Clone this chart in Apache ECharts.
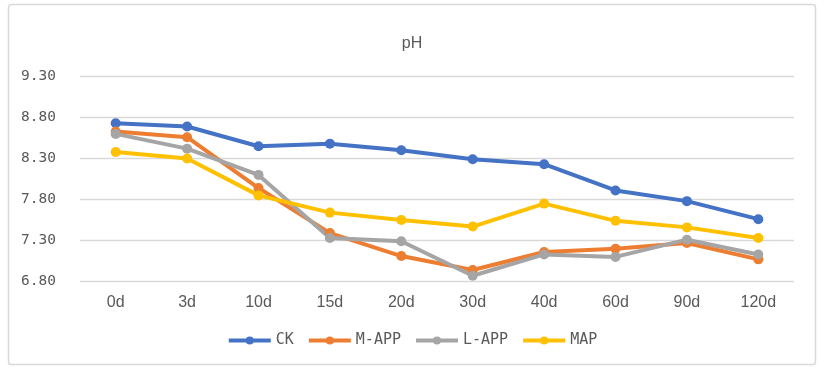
<!DOCTYPE html>
<html><head><meta charset="utf-8">
<script src="https://cdn.jsdelivr.net/npm/echarts@6/dist/echarts.min.js"></script>
<style>html,body{margin:0;padding:0;background:#fff}#c{width:824px;height:373px}</style>
</head><body><div id="c"></div>
<script>
const categories = ['0d','3d','10d','15d','20d','30d','40d','60d','90d','120d'];
const CK   = [8.73, 8.69, 8.45, 8.48, 8.40, 8.29, 8.23, 7.91, 7.78, 7.56];
const MAPP = [8.63, 8.56, 7.94, 7.39, 7.11, 6.94, 7.16, 7.20, 7.27, 7.07];
const LAPP = [8.60, 8.42, 8.10, 7.33, 7.29, 6.87, 7.13, 7.10, 7.31, 7.13];
const MAP  = [8.38, 8.30, 7.85, 7.64, 7.55, 7.47, 7.75, 7.54, 7.46, 7.33];
const seriesNames = ['CK','M-APP','L-APP','MAP'];
const colors = ['#4472C4','#ED7D31','#A5A5A5','#FFC000'];
const sans = '"Liberation Sans", Arial, sans-serif';
const mono = '"DejaVu Sans Mono", "Liberation Mono", monospace';
const chart = echarts.init(document.getElementById('c'), null, {renderer:'canvas'});
const mk = (name, data, i) => ({
  name, type:'line', data, symbol:'circle', symbolSize:10,
  lineStyle:{width:4, color:colors[i]}, itemStyle:{color:colors[i]},
  emphasis:{disabled:true}, animation:false
});
chart.setOption({
  animation:false,
  color: colors,
  title:{text:'pH', left:'center', top:31, textStyle:{fontFamily:sans, fontSize:16, fontWeight:'normal', color:'#595959'}},
  graphic:[{type:'rect', shape:{x:8.5, y:4.5, width:807, height:360, r:3}, style:{fill:'none', stroke:'#D9D9D9', lineWidth:1.5}, z:-1}],
  grid:{left:80, right:30, top:76.5, bottom:91.5},
  legend:{top:328, left:'center', itemWidth:42, itemHeight:10, itemGap:13,
    lineStyle:{width:4},
    textStyle:{fontFamily:mono, fontSize:15, color:'#595959'}, data:seriesNames},
  xAxis:{type:'category', data:categories, boundaryGap:true,
    axisLine:{show:false}, axisTick:{show:false},
    axisLabel:{fontFamily:sans, fontSize:16, color:'#595959', margin:13}},
  yAxis:{type:'value', min:6.8, max:9.3, interval:0.5,
    axisLine:{show:false}, axisTick:{show:false},
    splitLine:{lineStyle:{color:'#D9D9D9', width:1.3}},
    axisLabel:{fontFamily:mono, fontSize:14.5, color:'#595959', margin:24, formatter:v=>v.toFixed(2)}},
  series:[mk('CK',CK,0), mk('M-APP',MAPP,1), mk('L-APP',LAPP,2), mk('MAP',MAP,3)]
});
</script></body></html>
